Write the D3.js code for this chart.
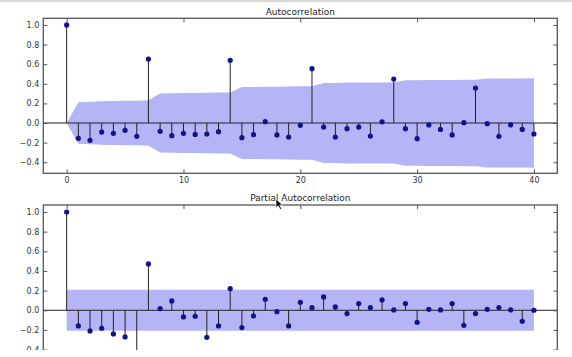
<!DOCTYPE html>
<html><head><meta charset="utf-8">
<script src="https://cdn.jsdelivr.net/npm/d3@7"></script>
<style>body{margin:0;background:#fff}svg{display:block}text{font-family:"DejaVu Sans",sans-serif}</style>
</head><body><svg id="c" width="572" height="357"></svg>
<script>
const lags = [0,1,2,3,4,5,6,7,8,9,10,11,12,13,14,15,16,17,18,19,20,21,22,23,24,25,26,27,28,29,30,31,32,33,34,35,36,37,38,39,40];
const acfValues = [1.0,-0.156,-0.177,-0.092,-0.105,-0.075,-0.136,0.653,-0.085,-0.129,-0.105,-0.116,-0.112,-0.088,0.639,-0.150,-0.119,0.014,-0.122,-0.143,-0.024,0.554,-0.041,-0.143,-0.058,-0.041,-0.133,0.012,0.449,-0.058,-0.160,-0.020,-0.065,-0.122,0.003,0.357,-0.007,-0.136,-0.020,-0.065,-0.112];
const acfBand = [0,0.211,0.216,0.222,0.224,0.226,0.227,0.231,0.302,0.303,0.306,0.307,0.309,0.311,0.312,0.366,0.368,0.370,0.370,0.372,0.374,0.374,0.409,0.409,0.412,0.412,0.412,0.414,0.414,0.435,0.436,0.438,0.438,0.439,0.440,0.440,0.453,0.453,0.455,0.455,0.456];
const pacfValues = [1.0,-0.159,-0.210,-0.183,-0.241,-0.271,-0.45,0.471,0.017,0.095,-0.068,-0.061,-0.275,-0.159,0.220,-0.176,-0.058,0.112,-0.014,-0.159,0.081,0.027,0.136,0.034,-0.034,0.068,0.027,0.105,0.003,0.068,-0.122,0.010,0.003,0.068,-0.153,-0.034,0.010,0.027,0.003,-0.112,0.0];
const pacfBandLevel = 0.209;
const xTicks = [0,10,20,30,40];
const yTicks = [-0.4,-0.2,0.0,0.2,0.4,0.6,0.8,1.0];
const titles = ["Autocorrelation","Partial Autocorrelation"];

const svg = d3.select("#c");
svg.append("rect").attr("width",572).attr("height",357).attr("fill","#fff");
svg.append("rect").attr("width",572).attr("height",2).attr("fill","#d8d8d8");

const L = 43.3, R = 557.3;
const x = d3.scaleLinear().domain([-2,42]).range([L,R]);
const fmt = d3.format(".1f");

svg.append("defs").append("clipPath").attr("id","cut")
  .append("rect").attr("x",0).attr("y",0).attr("width",572).attr("height",350);

function panel(g, top, bottom, yDomain, values, upper, lower, title, showXLabels){
  const y = d3.scaleLinear().domain(yDomain).range([bottom, top]);
  const area = d3.area().x((d,i)=>x(lags[i])).y0((d,i)=>y(lower[i])).y1((d,i)=>y(upper[i]));
  g.append("path").datum(lags).attr("d",area).attr("fill","#b4b4f7").attr("stroke","none");
  g.append("line").attr("x1",L).attr("x2",R).attr("y1",y(0)).attr("y2",y(0)).attr("stroke","#222").attr("stroke-width",1);
  g.selectAll("line.stem").data(values).join("line").attr("class","stem")
    .attr("x1",(d,i)=>x(lags[i])).attr("x2",(d,i)=>x(lags[i]))
    .attr("y1",y(0)).attr("y2",d=>y(d)).attr("stroke","#222").attr("stroke-width",1);
  g.selectAll("circle").data(values).join("circle")
    .attr("cx",(d,i)=>x(lags[i])).attr("cy",d=>y(d)).attr("r",2.6).attr("fill","#12128c");
  const ax = (sel)=>{sel.select(".domain").remove(); sel.selectAll("line").attr("stroke","#555");
    sel.selectAll("text").attr("fill","#333").style("font-size","8px").style("font-family","DejaVu Sans");};
  g.append("g").attr("transform",`translate(0,${bottom})`)
    .call(d3.axisBottom(x).tickValues(xTicks).tickSize(-4).tickPadding(4)
      .tickFormat(showXLabels ? d3.format("d") : "")).call(ax);
  g.append("g").attr("transform",`translate(0,${top})`)
    .call(d3.axisTop(x).tickValues(xTicks).tickSize(-4).tickFormat("")).call(ax);
  g.append("g").attr("transform",`translate(${L},0)`)
    .call(d3.axisLeft(y).tickValues(yTicks).tickSize(-4).tickPadding(4).tickFormat(fmt)).call(ax);
  g.append("g").attr("transform",`translate(${R},0)`)
    .call(d3.axisRight(y).tickValues(yTicks).tickSize(-4).tickFormat("")).call(ax);
  g.append("rect").attr("x",L).attr("y",top).attr("width",R-L).attr("height",bottom-top)
    .attr("fill","none").attr("stroke","#555").attr("stroke-width",1.3);
  g.append("text").attr("x",(L+R)/2).attr("y",top-3.8).attr("text-anchor","middle")
    .style("font-size","9px").attr("fill","#222").text(title);
}

panel(svg.append("g"), 18.3, 173.3, [-0.513,1.068], acfValues, acfBand, acfBand.map(v=>-v), titles[0], true);
panel(svg.append("g").attr("clip-path","url(#cut)"), 205, 360, [-0.506,1.071], pacfValues,
  lags.map(()=>pacfBandLevel), lags.map(()=>-pacfBandLevel), titles[1], false);

// mouse pointer visible in the screenshot
svg.append("path").attr("transform","translate(276,199) scale(0.75)")
  .attr("d","M0,0 L0,12 L3,9 L5.5,14 L7.5,13 L5,8 L9,8 Z")
  .attr("fill","#000").attr("stroke","#fff").attr("stroke-width",1);
</script></body></html>
